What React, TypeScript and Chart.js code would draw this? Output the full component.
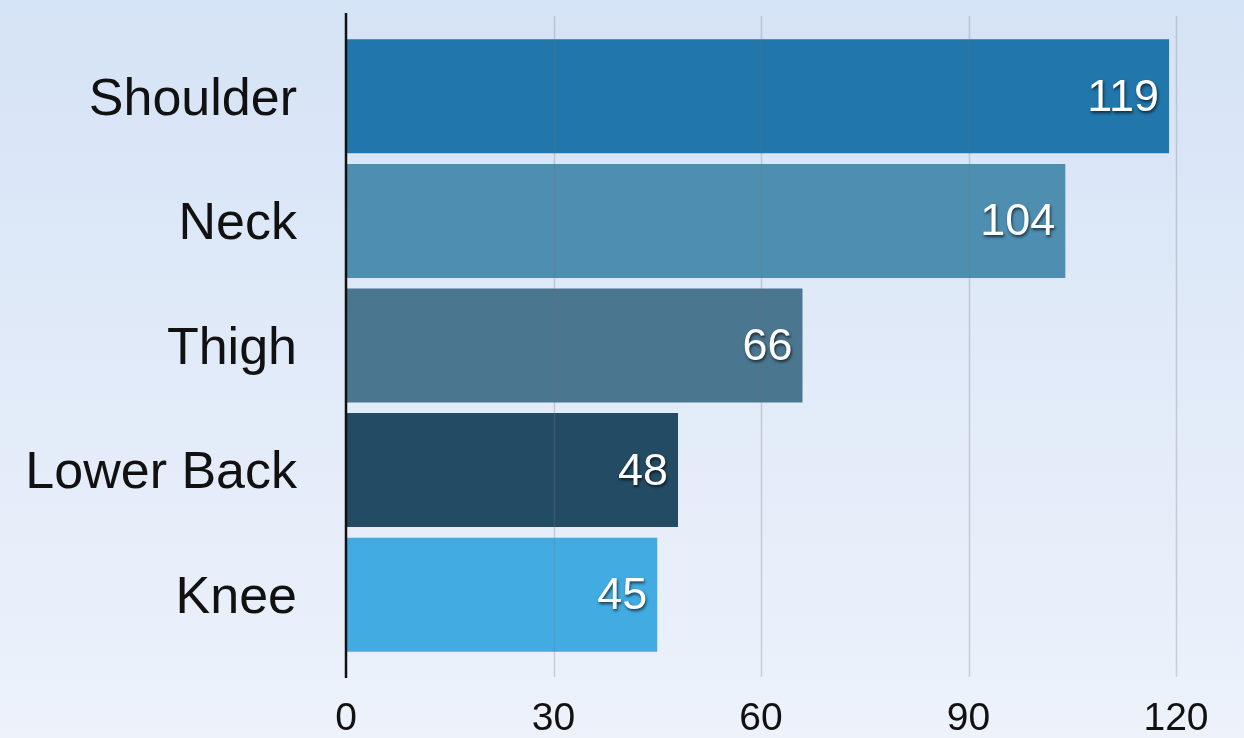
import React, { useEffect, useRef } from "react";
import { Chart, registerables } from "chart.js";

Chart.register(...registerables);

const categories = ["Shoulder", "Neck", "Thigh", "Lower Back", "Knee"];
const counts = [119, 104, 66, 48, 45];
const barColors = ["#2176ab", "#4e8eb0", "#4a768f", "#244b64", "#42abe1"];
const xTicks = [0, 30, 60, 90, 120];

const FONT = "'Liberation Sans', Helvetica, Arial, sans-serif";

const decorPlugin = {
  id: "decor",
  beforeDraw(chart: any) {
    const { ctx, width, height } = chart;
    const g = ctx.createLinearGradient(0, 0, 0, height);
    g.addColorStop(0, "#d5e3f6");
    g.addColorStop(1, "#edf2fb");
    ctx.save();
    ctx.fillStyle = g;
    ctx.fillRect(0, 0, width, height);
    ctx.restore();
  },
  afterDatasetsDraw(chart: any) {
    const { ctx, chartArea, scales } = chart;
    const x = scales.x;
    const top = chartArea.top - 21;
    const bottom = chartArea.bottom + 20;
    ctx.save();
    // vertical grid lines
    ctx.strokeStyle = "rgba(110,115,125,0.28)";
    ctx.lineWidth = 1.5;
    xTicks.forEach((v) => {
      if (v === 0) return;
      const px = Math.round(x.getPixelForValue(v)) + 0.5;
      ctx.beginPath();
      ctx.moveTo(px, top + 3);
      ctx.lineTo(px, bottom);
      ctx.stroke();
    });
    // zero axis line
    const x0 = x.getPixelForValue(0);
    ctx.strokeStyle = "#111";
    ctx.lineWidth = 2.5;
    ctx.beginPath();
    ctx.moveTo(x0, top);
    ctx.lineTo(x0, bottom + 1);
    ctx.stroke();

    // value labels
    const meta = chart.getDatasetMeta(0);
    ctx.font = `45px ${FONT}`;
    ctx.textAlign = "right";
    ctx.textBaseline = "middle";
    ctx.fillStyle = "#ffffff";
    ctx.shadowColor = "rgba(0,0,0,0.65)";
    ctx.shadowOffsetX = 1;
    ctx.shadowOffsetY = 2;
    ctx.shadowBlur = 3;
    meta.data.forEach((el: any, i: number) => {
      ctx.fillText(String(counts[i]), el.x - 10, el.y + 2);
    });
    ctx.restore();
  },
};

export default function App() {
  const ref = useRef<HTMLCanvasElement>(null);

  useEffect(() => {
    document.body.style.margin = "0";
    const chart = new Chart(ref.current!, {
      type: "bar",
      data: {
        labels: categories,
        datasets: [
          {
            data: counts,
            backgroundColor: barColors,
            borderWidth: 0,
            barPercentage: 0.915,
            categoryPercentage: 1,
          },
        ],
      },
      options: {
        indexAxis: "y",
        responsive: false,
        animation: false,
        devicePixelRatio: 1,
        layout: { padding: { top: 34, right: 68, bottom: 0, left: 0 } },
        plugins: {
          legend: { display: false },
          tooltip: { enabled: false },
        },
        scales: {
          x: {
            min: 0,
            max: 120,
            afterBuildTicks: (scale: any) => {
              scale.ticks = xTicks.map((v) => ({ value: v }));
            },
            afterFit: (scale: any) => {
              scale.height = 81;
            },
            grid: { display: false },
            border: { display: false },
            ticks: {
              color: "#111",
              font: { family: FONT, size: 39 },
              padding: 31,
              maxRotation: 0,
            },
          },
          y: {
            afterFit: (scale: any) => {
              scale.width = 346;
              scale.paddingTop = 0;
              scale.paddingBottom = 0;
              // nudge category labels a few pixels down onto the bar centres
              if (!scale._nudged) {
                const drawLabels = scale.drawLabels.bind(scale);
                scale.drawLabels = (area: any) => {
                  scale.ctx.save();
                  scale.ctx.translate(0, 4);
                  drawLabels(area);
                  scale.ctx.restore();
                };
                scale._nudged = true;
              }
            },
            grid: { display: false },
            border: { display: false },
            ticks: {
              color: "#111",
              font: { family: FONT, size: 52 },
              padding: 41,
            },
          },
        },
      },
      plugins: [decorPlugin],
    });
    return () => chart.destroy();
  }, []);

  return <canvas ref={ref} width={1244} height={738} style={{ display: "block" }} />;
}
